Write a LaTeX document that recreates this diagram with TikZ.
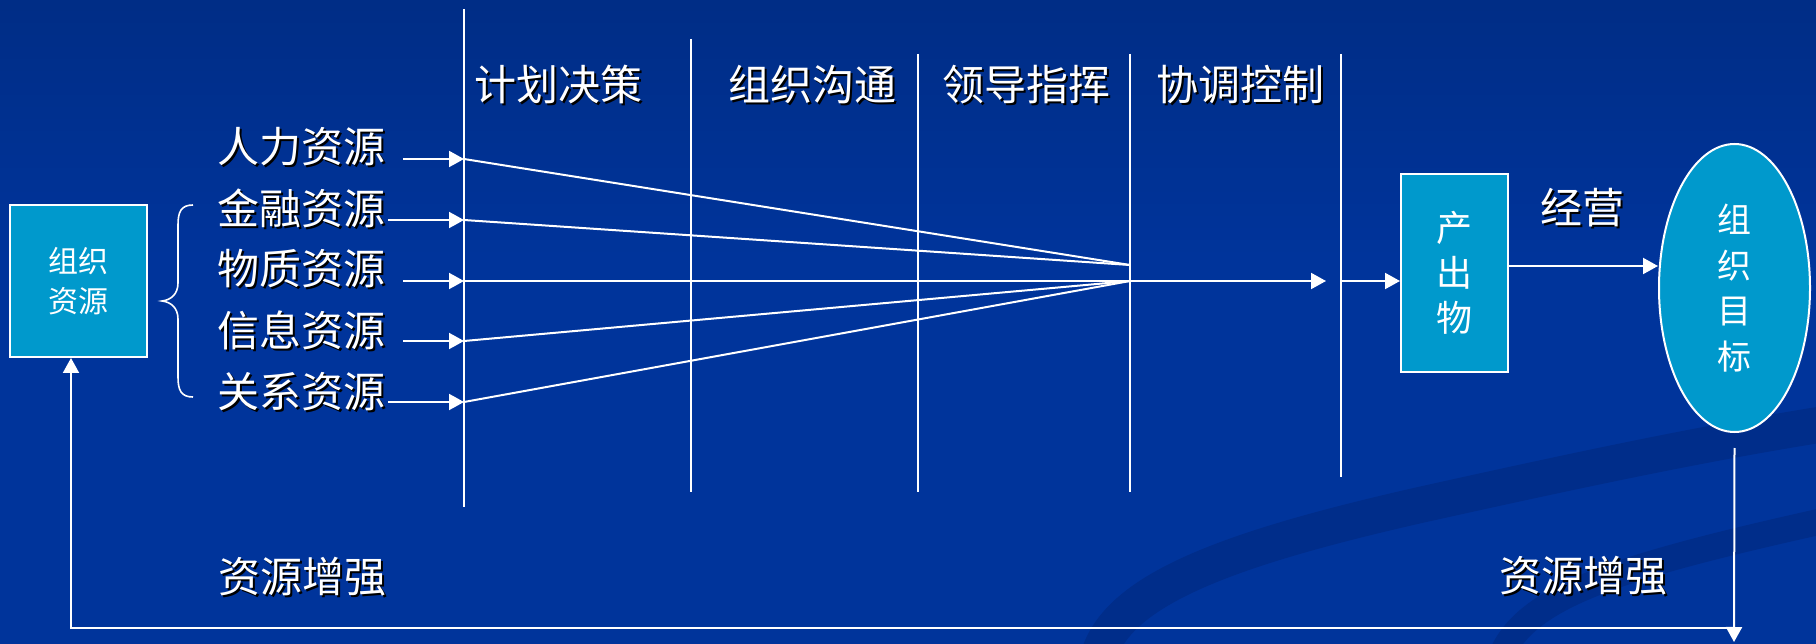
\documentclass[tikz,border=0pt]{standalone}
\usepackage{fontspec}
\newfontfamily\cjk{Noto Sans CJK SC}
\usetikzlibrary{arrows.meta,shapes.geometric}
\definecolor{bgtop}{RGB}{0,36,107}
\definecolor{bgbot}{RGB}{0,52,155}
\definecolor{swoosh}{RGB}{0,45,138}
\definecolor{boxfill}{RGB}{0,153,204}
\newcommand{\shd}[1]{\leavevmode\rlap{\kern2pt\raisebox{-2pt}{\color{black}#1}}#1}
\pgfdeclareverticalshading{bgshade}{100bp}{color(0bp)=(bgbot); color(55bp)=(bgbot); color(100bp)=(bgtop)}
\begin{document}
\begin{tikzpicture}[x=1pt,y=-1pt,
  wl/.style={draw=white,line width=2pt},
  arr/.style={wl,-{Triangle[length=15pt,width=16pt]}},
  lab/.style={font=\cjk\fontsize{42}{50}\selectfont,text=white,inner sep=0pt},
  boxnode/.style={draw=white,line width=2pt,fill=boxfill,text=white,align=center,inner sep=0pt}]
\shade[shading=bgshade] (0,0) rectangle (1816,644);
\useasboundingbox (0,0) rectangle (1816,644);
\begin{scope}
\clip (0,0) rectangle (1816,644);
\draw[swoosh,line width=36pt] (1095,680) .. controls (1095,600) and (1200,555) .. (1420,505) .. controls (1600,465) and (1720,440) .. (1850,420);
\draw[swoosh,line width=26pt] (1495,680) .. controls (1505,600) and (1600,570) .. (1850,515);
\end{scope}
% vertical stage lines
\draw[wl] (464,9) -- (464,507);
\draw[wl] (691,39) -- (691,492);
\draw[wl] (918,54) -- (918,492);
\draw[wl] (1130,54) -- (1130,492);
\draw[wl] (1341,54) -- (1341,477);
% stage labels
\node[lab] (s1) at (558.5,86) {\shd{计划决策}};
\node[lab] (s2) at (812.5,86) {\shd{组织沟通}};
\node[lab] (s3) at (1026.5,86) {\shd{领导指挥}};
\node[lab] (s4) at (1240,86) {\shd{协调控制}};
% left box
\node[boxnode,minimum width=137pt,minimum height=152pt,font=\cjk\fontsize{30}{40}\selectfont] (org) at (78.5,281) {组织\\资源};
% brace
\draw[draw=white,line width=1.6pt] (193,205) .. controls (181,205) and (178,212) .. (178,225) -- (178,283) .. controls (178,294) and (171,300) .. (162,301) .. controls (171,302) and (178,308) .. (178,319) -- (178,377) .. controls (178,390) and (181,397) .. (193,397);
% resource labels
\node[lab] (r1) at (301.5,148) {\shd{人力资源}};
\node[lab] (r2) at (301.5,209) {\shd{金融资源}};
\node[lab] (r3) at (301.5,270) {\shd{物质资源}};
\node[lab] (r4) at (301.5,331) {\shd{信息资源}};
\node[lab] (r5) at (301.5,393) {\shd{关系资源}};
% coordinates
\coordinate (a1) at (403,159); \coordinate (t1) at (464,159);
\coordinate (a2) at (388,220); \coordinate (t2) at (464,220);
\coordinate (a3) at (403,281); \coordinate (t3) at (464,281);
\coordinate (a4) at (403,341); \coordinate (t4) at (464,341);
\coordinate (a5) at (388,402); \coordinate (t5) at (464,402);
\coordinate (c1) at (1130,265);
\coordinate (c2) at (1130,281);
\coordinate (e1) at (1326,281);
\coordinate (v5) at (1341,281);
\draw[arr] (a1) -- (t1);
\draw[arr] (a2) -- (t2);
\draw[arr] (a3) -- (t3);
\draw[arr] (a4) -- (t4);
\draw[arr] (a5) -- (t5);
\draw[wl] (t1) -- (c1);
\draw[wl] (t2) -- (c1);
\draw[arr] (t3) -- (e1);
\draw[wl] (t4) -- (c2);
\draw[wl] (t5) -- (c2);
% output box
\node[boxnode,minimum width=107pt,minimum height=198pt,font=\cjk\fontsize{36}{45}\selectfont] (prod) at (1454.5,273) {产\\出\\物};
\draw[arr] (v5) -- (prod.west |- v5);
% goal ellipse
\node[boxnode,ellipse,minimum width=151pt,minimum height=288pt,font=\cjk\fontsize{34}{45.5}\selectfont] (goal) at (1734.5,288) {组\\织\\目\\标};
\draw[arr] (prod.east |- 0,266) -- (goal.west |- 0,266);
\node[lab] (op) at (1582,209) {\shd{经营}};
% feedback
\coordinate (bd) at (1734,642);
\coordinate (br) at (1734,628);
\coordinate (bl) at (71,628);
\draw[arr] ([yshift=-15pt]goal.south) -- (bd);
\draw[arr] (br) -- (bl) -- (bl |- org.south);
\node[lab] (f1) at (302.5,578) {\shd{资源增强}};
\node[lab] (f2) at (1583,577) {\shd{资源增强}};
\end{tikzpicture}
\end{document}
